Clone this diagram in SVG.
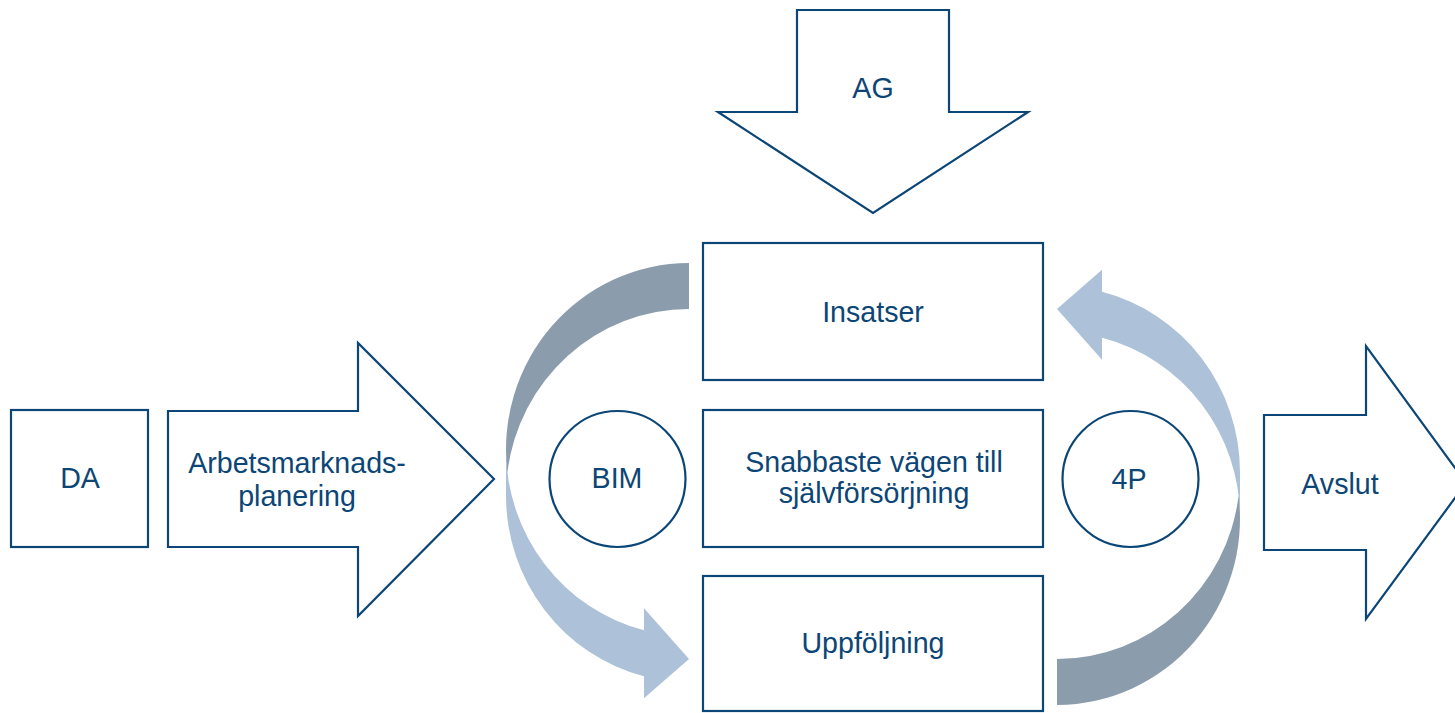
<svg xmlns="http://www.w3.org/2000/svg" width="1455" height="713" viewBox="0 0 1455 713">
<style>
.shape{fill:#ffffff;stroke:#0c4676;stroke-width:2.2;stroke-linejoin:miter}
.lbl{font-family:"Liberation Sans",Arial,sans-serif;font-size:28.6px;fill:#0c4676;text-anchor:middle}
.dark{fill:#8b9cac}
.light{fill:#adc2d8}
</style>
<defs>
<g id="curved">
<path class="light" d="M506,449.5 A183,186.5 0 0 0 644,630.3 L644,608.3 L689,659 L644,698.3 L644,676.3 A183,186.5 0 0 1 506,495.5 Z"/>
<path class="dark" d="M689,309 A183,186.5 0 0 0 507.4,472.5 A183,186.5 0 0 1 689,263 Z"/>
</g>
</defs>
<rect width="1455" height="713" fill="#ffffff"/>
<g id="connectors">
<use id="loop-left" href="#curved"/>
<use id="loop-right" href="#curved" transform="rotate(180 873 484)"/>
</g>
<g id="node-ag">
<polygon class="shape" points="797,10 949,10 949,112 1028,112 873,213 718,112 797,112"/>
<text class="lbl" x="873" y="98">AG</text>
</g>
<g id="node-da">
<rect class="shape" x="11" y="410" width="137" height="137"/>
<text class="lbl" x="80" y="488">DA</text>
</g>
<g id="node-arbetsmarknad">
<polygon class="shape" points="168,411 358,411 358,343 494,479 358,616 358,547 168,547"/>
<text class="lbl" x="297" y="473">Arbetsmarknads-</text>
<text class="lbl" x="297" y="506">planering</text>
</g>
<g id="node-insatser">
<rect class="shape" x="703" y="243" width="340" height="137"/>
<text class="lbl" x="873" y="322">Insatser</text>
</g>
<g id="node-snabbaste">
<rect class="shape" x="703" y="410" width="340" height="137"/>
<text class="lbl" x="874" y="472">Snabbaste vägen till</text>
<text class="lbl" x="874" y="503">självförsörjning</text>
</g>
<g id="node-uppfoljning">
<rect class="shape" x="703" y="576" width="340" height="135"/>
<text class="lbl" x="873" y="653">Uppföljning</text>
</g>
<g id="node-bim">
<circle class="shape" cx="617.5" cy="479" r="68"/>
<text class="lbl" x="617" y="488">BIM</text>
</g>
<g id="node-4p">
<circle class="shape" cx="1130.5" cy="479" r="68"/>
<text class="lbl" x="1129" y="489">4P</text>
</g>
<g id="node-avslut">
<polygon class="shape" points="1264,415 1366,415 1366,346 1466,483 1366,619 1366,550 1264,550"/>
<text class="lbl" x="1340" y="494">Avslut</text>
</g>
</svg>
